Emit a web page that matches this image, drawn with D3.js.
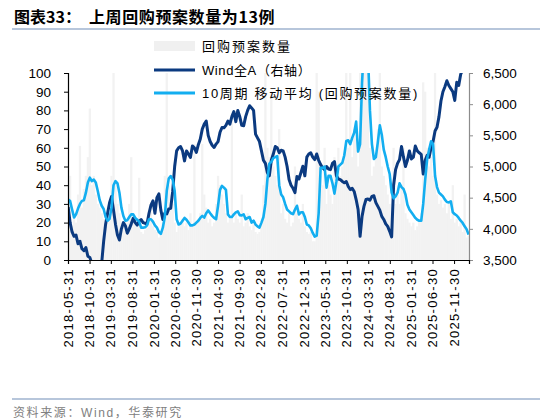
<!DOCTYPE html>
<html>
<head>
<meta charset="utf-8">
<script src="https://cdn.jsdelivr.net/npm/d3@7"></script>
<style>
  body { margin: 0; background: #fff; }
  text { font-family: "Liberation Sans", Arial, "Noto Sans CJK SC", sans-serif; }
</style>
</head>
<body>
<div id="chart"></div>
<script>
// data: one value every two weeks, starting 2018-06-01
var startDate = "2018-06-01";
var stepDays = 14;

// 回购预案数量 (weekly count, bars)
var barVals = [
  30, 45, 18, 25, 20, 35, 61, 28, 38, 45,
  55, 81, 40, 45, 35, 30, 28, 25, 22, 18,
  20, 25, 45, 100, 40, 30, 25, 20, 18, 22,
  20, 30, 55, 22, 20, 18, 44, 15, 14, 16, 18,
  20, 30, 18, 16, 15, 12, 14, 20, 45, 100,
  40, 35, 30, 20, 15, 18, 20, 22, 18, 20,
  16, 25, 18, 62, 20, 22, 25, 62, 35, 28,
  20, 22, 18, 20, 30, 45, 40, 35, 30, 25,
  20, 22, 78, 20, 25, 22, 20, 35, 18, 20,
  25, 18, 16, 20, 15, 14, 15, 20, 40, 100,
  60, 55, 90, 50, 45, 40, 70, 25, 30, 22,
  20, 25, 18, 20, 50, 25, 22, 20, 30, 18, 15,
  14, 15, 10, 10, 100, 90, 45, 40, 60, 30,
  40, 35, 30, 55, 40, 60, 45, 50, 55, 100,
  60, 100, 55, 70, 65, 50, 100, 100, 100, 100,
  100, 60, 45, 50, 55, 70, 100, 50, 45, 40,
  35, 30, 25, 60, 30, 35, 30, 40, 60, 25,
  22, 20, 18, 20, 16, 18, 22, 25, 95, 90, 60,
  50, 55, 45, 100, 35, 30, 32, 28, 30, 25,
  30, 22, 40, 20, 22, 18, 20, 15, 35, 12, 13
];

// 10周期 移动平均 (回购预案数量)
var maVals = [
  32.4, 31.5, 27, 22.7, 24.4, 27.5, 30, 31.6, 32, 36,
  41.5, 44, 42.2, 43, 41.5, 37, 32, 29, 27.3, 23,
  21, 22, 28, 40, 42.2, 41, 36, 28, 23.5, 21,
  21.3, 23, 24.4, 24.4, 22.5, 21.5, 20.5, 17.3, 17.3, 17.5, 18.5,
  21.8, 21.8, 20.5, 18.5, 17.3, 15, 14, 17.3, 23, 37,
  43.5, 44.9, 43, 37, 21.8, 19, 19.5, 21, 22.5, 21.5,
  20, 18.5, 18.5, 19, 20, 21, 22.5, 23.6, 22.7, 25,
  26.5, 25, 23.6, 22.5, 21.8, 29, 37.5, 39.6, 38.7, 37.5,
  24.4, 23, 23, 24.4, 25.5, 26, 24, 23.8, 24.4, 21.8,
  22.5, 23, 20, 21, 19, 18, 17.3, 20, 23, 30,
  43, 51.5, 52.5, 54.5, 55, 55.6, 40, 35, 33.5, 30,
  27, 26, 25, 24.5, 27, 29, 24.4, 25.5, 25.5, 23, 19,
  18.5, 17, 14.5, 12.5, 13, 25, 49.3, 49.3, 50, 38.7,
  45, 45, 41, 35.5, 42, 50, 51, 52, 56, 63.6,
  64, 62, 65.3, 68, 74, 58, 62, 95, 115, 125,
  110, 80, 62, 54, 55, 63, 72, 67, 59, 55,
  50, 46, 36, 33, 34, 36, 41, 39, 38, 35,
  29.5, 27, 25.5, 24, 22.5, 21.5, 21, 21, 30, 42.9, 54,
  59, 63.5, 62, 45, 39, 36, 35, 34, 32.3, 31,
  30.8, 31.4, 25.5, 24.5, 23.8, 22.5, 21, 19.8, 18, 16.5, 13.6
];

// Wind全A (右轴)
var windVals = [
  4350, 4100, 3950, 3880, 3900, 3760, 3800, 3680, 3650, 3700,
  3560, 3540, 3450, 3350, 3300, 3250, 3300, 3450, 3800, 4075,
  4250, 4420, 4520, 4300, 4075, 3900, 3820, 4000, 4100, 4050,
  3930, 4000, 4080, 4170, 4100, 4060, 4120, 4150, 4100, 4090, 4080,
  4250, 4380, 4450, 4250, 4500, 4560, 4300, 4150, 4250, 4240,
  4320, 4330, 4600, 5000, 5250, 5300, 5320, 5250, 5090, 5250,
  5200, 5145, 5330, 5300, 5225, 5350, 5440, 5600, 5680, 5730,
  5500, 5400, 5340, 5305, 5360, 5400, 5550, 5625, 5620, 5660,
  5730, 5680, 5800, 5880, 5720, 5900, 5800, 5660, 5655, 5800,
  5900, 5975, 5940, 5900, 5520, 5460, 5400, 5250, 5100, 5050,
  4900, 4850, 5100, 5200, 5320, 5300, 5220, 5260, 5250, 5150,
  5000, 4790, 4700, 4650, 4580, 4840, 4800, 4900, 5005, 4850, 5150,
  5200, 5220, 5150, 5110, 5200, 5100, 5030, 4980, 4950, 5000,
  4960, 4950, 5050, 5080, 4850, 4800, 4790, 4760, 4740, 4760,
  4680, 4630, 4650, 4600, 4470, 4310, 3880, 4200, 4365, 4470,
  4480, 4460, 4520, 4530, 4420, 4360, 4300, 4200, 4150, 4080,
  4040, 3960, 3870, 4700, 4950, 5050, 5110, 5320, 5150, 5000,
  5100, 5250, 5120, 5150, 5330, 5250, 5220, 5195, 4880, 5100, 5180,
  5150, 5300, 5400, 5570, 5630, 5800, 6050, 6200, 6280, 6375,
  6300, 6250, 6200, 6060, 6350, 6300, 6480, 6550, 6620, 6650, 6600
];

var xTickLabels = ["2018-05-31", "2018-10-31", "2019-03-31", "2019-08-31", "2020-01-31",
  "2020-06-30", "2020-11-30", "2021-04-30", "2021-09-30", "2022-02-28", "2022-07-31",
  "2022-12-31", "2023-05-31", "2023-10-31", "2024-03-31", "2024-08-31", "2025-01-31",
  "2025-06-30", "2025-11-30"];
var leftTicks = [0, 10, 20, 30, 40, 50, 60, 70, 80, 90, 100];
var rightTicks = [3500, 4000, 4500, 5000, 5500, 6000, 6500];

var svgWidth = 550;
var svgHeight = 420;
var plot = { left: 68, right: 469, top: 73, bottom: 260 };

var parseDate = d3.timeParse("%Y-%m-%d");
var t0 = parseDate(startDate);
var dates = barVals.map(function(d, i) { return d3.timeDay.offset(t0, i * stepDays); });

var svg = d3.select("#chart")
  .append("svg")
  .attr("width", svgWidth)
  .attr("height", svgHeight);

// title
svg.append("text")
  .attr("x", 14).attr("y", 23)
  .attr("font-size", "16px").attr("font-weight", "bold")
  .style("font-family", "'Noto Sans CJK SC', sans-serif")
  .text("图表33：");
svg.append("text")
  .attr("x", 89).attr("y", 23)
  .attr("font-size", "16px").attr("font-weight", "bold")
  .style("font-family", "'Noto Sans CJK SC', sans-serif")
  .style("letter-spacing", "0.6px")
  .text("上周回购预案数量为13例");
svg.append("line")
  .attr("x1", 12).attr("x2", 540).attr("y1", 29).attr("y2", 29)
  .attr("stroke", "#9fb3cf").attr("stroke-width", 1.5);

// scales
var x = d3.scaleTime()
  .domain([parseDate("2018-05-31"), parseDate("2026-03-16")])
  .range([plot.left, plot.right]);
var yLeft = d3.scaleLinear().domain([0, 100]).range([plot.bottom, plot.top]);
var yRight = d3.scaleLinear().domain([3500, 6500]).range([plot.bottom, plot.top]);

svg.append("clipPath").attr("id", "plotClip")
  .append("rect")
  .attr("x", plot.left).attr("y", plot.top)
  .attr("width", plot.right - plot.left).attr("height", plot.bottom - plot.top);

var chartGroup = svg.append("g").attr("clip-path", "url(#plotClip)");

// bars
var bw = x(dates[1]) - x(dates[0]) + 0.3;
chartGroup.selectAll("rect.bar")
  .data(barVals)
  .enter()
  .append("rect")
  .attr("class", "bar")
  .attr("x", function(d, i) { return x(dates[i]) - bw / 2; })
  .attr("y", function(d) { return yLeft(d); })
  .attr("width", bw)
  .attr("height", function(d) { return plot.bottom - yLeft(d); })
  .attr("fill", "#f2f2f2");

// Wind全A line
var windLine = d3.line()
  .x(function(d, i) { return x(dates[i]); })
  .y(function(d) { return yRight(d); });
chartGroup.append("path")
  .datum(windVals)
  .attr("d", windLine)
  .attr("fill", "none")
  .attr("stroke", "#0b3a80")
  .attr("stroke-width", 3)
  .attr("stroke-linejoin", "round");

// moving average line
var maLine = d3.line()
  .x(function(d, i) { return x(dates[i]); })
  .y(function(d) { return yLeft(d); });
chartGroup.append("path")
  .datum(maVals)
  .attr("d", maLine)
  .attr("fill", "none")
  .attr("stroke", "#13aef0")
  .attr("stroke-width", 2.6)
  .attr("stroke-linejoin", "round");

// axes
var leftAxis = d3.axisLeft(yLeft).tickValues(leftTicks).tickSize(4).tickPadding(13);
var rightAxis = d3.axisRight(yRight).tickValues(rightTicks).tickSize(4).tickPadding(10)
  .tickFormat(d3.format(","));
var bottomAxis = d3.axisBottom(x).tickValues(xTickLabels.map(parseDate)).tickSize(4)
  .tickFormat(function() { return ""; });

var gl = svg.append("g").attr("transform", "translate(" + plot.left + ",0)").call(leftAxis);
var gr = svg.append("g").attr("transform", "translate(" + plot.right + ",0)").call(rightAxis);
var gb = svg.append("g").attr("transform", "translate(0," + plot.bottom + ")").call(bottomAxis);

gl.select(".domain").attr("stroke", "#000").attr("stroke-width", 1.2);
gl.selectAll(".tick line").attr("stroke", "#000");
gr.select(".domain").attr("stroke", "#8c8c8c").attr("stroke-width", 1.2);
gr.selectAll(".tick line").attr("stroke", "#8c8c8c");
gb.select(".domain").attr("stroke", "#000").attr("stroke-width", 1.2);
gb.selectAll(".tick line").attr("stroke", "#000");
[gl, gr].forEach(function(g) {
  g.selectAll(".tick text")
    .attr("font-size", "13.5px")
    .attr("fill", "#000")
    .style("font-family", "'Liberation Sans', Arial, sans-serif");
});

// rotated date labels
svg.append("g").selectAll("text")
  .data(xTickLabels)
  .enter()
  .append("text")
  .attr("transform", function(d) { return "translate(" + x(parseDate(d)) + "," + (plot.bottom + 8) + ") rotate(-90)"; })
  .attr("text-anchor", "end")
  .attr("dy", "0.35em")
  .attr("font-size", "13px")
  .style("letter-spacing", "1.3px")
  .attr("fill", "#000")
  .text(function(d) { return d; });

// legend
var legend = svg.append("g");
legend.append("rect")
  .attr("x", 154).attr("y", 41).attr("width", 41).attr("height", 10)
  .attr("fill", "#f0f0f0");
legend.append("line")
  .attr("x1", 154).attr("x2", 195).attr("y1", 70).attr("y2", 70)
  .attr("stroke", "#0b3a80").attr("stroke-width", 3);
legend.append("line")
  .attr("x1", 154).attr("x2", 195).attr("y1", 93).attr("y2", 93)
  .attr("stroke", "#13aef0").attr("stroke-width", 3);
var legendLabels = ["回购预案数量", "Wind全A（右轴）", "10周期 移动平均 (回购预案数量)"];
var legendSpacing = ["2px", "0.6px", "1.7px"];
var legendY = [46, 70, 93];
legend.selectAll("text")
  .data(legendLabels)
  .enter()
  .append("text")
  .attr("x", 202)
  .attr("y", function(d, i) { return legendY[i]; })
  .attr("dy", "0.35em")
  .attr("font-size", "13px")
  .style("letter-spacing", function(d, i) { return legendSpacing[i]; })
  .attr("fill", "#000")
  .text(function(d) { return d; });

// footer
svg.append("line")
  .attr("x1", 12).attr("x2", 540).attr("y1", 399).attr("y2", 399)
  .attr("stroke", "#9fb3cf").attr("stroke-width", 1.5);
svg.append("text")
  .attr("x", 13).attr("y", 413)
  .attr("dy", "0.35em")
  .attr("font-size", "12px")
  .style("letter-spacing", "1.6px")
  .attr("fill", "#808080")
  .text("资料来源：Wind，华泰研究");
</script>
</body>
</html>
